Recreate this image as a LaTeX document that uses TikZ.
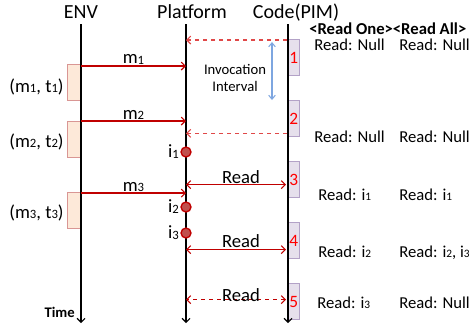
\documentclass[tikz,border=0pt]{standalone}
\usepackage{fontspec}
\setmainfont{Carlito}
\usetikzlibrary{arrows.meta}

\definecolor{msgred}{HTML}{C00000}
\definecolor{pollred}{HTML}{E04848}
\definecolor{itemfill}{HTML}{C0504D}
\definecolor{envfill}{HTML}{FDE9D9}
\definecolor{envedge}{HTML}{D99694}
\definecolor{codefill}{HTML}{E6E0EC}
\definecolor{codeedge}{HTML}{B3A2C7}
\definecolor{ivblue}{HTML}{7EA6E0}

\newcommand{\dg}[1]{\raisebox{-0.1ex}{\scalebox{0.68}{#1}}}

\tikzset{
    title/.style={anchor=base, font=\fontsize{15}{15}\selectfont},
    lifeline/.style={line width=0.8pt, -{Straight Barb[length=3pt,width=6pt]}},
    envbox/.style={draw=envedge, fill=envfill, line width=1pt, anchor=north east,
        minimum width=9.75pt, minimum height=27pt, inner sep=0pt},
    codebox/.style={draw=codeedge, fill=codefill, line width=1pt, anchor=north west,
        minimum width=9pt, minimum height=27pt, inner sep=0pt,
        text=red, font=\fontsize{13}{13}\selectfont},
    msg/.style={msgred, line width=0.8pt, -{Straight Barb[length=3pt,width=6pt]}},
    poll/.style={pollred, dashed, line width=0.8pt, -{Straight Barb[length=3pt,width=6pt]}},
    readmsg/.style={msgred, line width=0.8pt, {Straight Barb[length=3pt,width=6pt]}-{Straight Barb[length=3pt,width=6pt]}},
    item/.style={circle, draw=msgred, fill=itemfill, line width=1pt, minimum size=7.5pt, inner sep=0pt},
    lbl/.style={font=\fontsize{14}{14}\selectfont},
    row/.style={anchor=base west, inner sep=0pt, font=\fontsize{12.5}{12.5}\selectfont},
}

\begin{document}
\begin{tikzpicture}[x=0.75pt, y=-0.75pt]
    \useasboundingbox (0,0) rectangle (472,330);
    \clip (0,0) rectangle (472,330);

    % lifeline titles
    \node [title] (envtitle) at (81,18) {ENV};
    \node [title] (plattitle) at (192,18) {Platform};
    \node [title] (codetitle) at (296,18) {Code(PIM)};

    \coordinate (envtop) at (81,24);
    \coordinate (envbot) at (81,323);
    \coordinate (plattop) at (186,24);
    \coordinate (platbot) at (186,323);
    \coordinate (codetop) at (288,24);
    \coordinate (codebot) at (288,323);

    % activations
    \node [envbox] (env1) at (81,64) {};
    \node [envbox] (env2) at (81,121) {};
    \node [envbox] (env3) at (81,192) {};

    \node [codebox] (code1) at (287,39) {1};
    \node [codebox] (code2) at (287,100) {2};
    \node [codebox] (code3) at (287,161) {3};
    \node [codebox] (code4) at (287,222) {4};
    \node [codebox] (code5) at (287,283) {5};

    \draw [lifeline] (envtop) -- (envbot);
    \draw [lifeline] (plattop) -- (platbot);
    \draw [lifeline] (codetop) -- (codebot);

    \node [lbl, anchor=base] (mt1) at (36.5,92) {(m\dg{1}, t\dg{1})};
    \node [lbl, anchor=base] (mt2) at (36.5,147) {(m\dg{2}, t\dg{2})};
    \node [lbl, anchor=base] (mt3) at (36.5,218) {(m\dg{3}, t\dg{3})};
    \node [anchor=base east, inner sep=0pt, font=\bfseries\fontsize{11}{11}\selectfont] (time) at (75,317) {Time};

    % messages from ENV
    \coordinate (m1) at ([yshift=-1.5pt]env1.north east);
    \coordinate (m2) at (env2.north east);
    \coordinate (m3) at ([yshift=-0.75pt]env3.north east);
    \draw [msg] (m1) -- (m1 -| plattop) node [lbl, midway, anchor=base, yshift=2pt, text=black] {m\dg{1}};
    \draw [msg] (m2) -- (m2 -| plattop) node [lbl, midway, anchor=base, yshift=1.5pt, text=black] {m\dg{2}};
    \draw [msg] (m3) -- (m3 -| plattop) node [lbl, midway, anchor=base, yshift=1.5pt, text=black] {m\dg{3}};

    % polls with no input
    \coordinate (q1) at ([yshift=-0.75pt]code1.north west);
    \coordinate (q2) at ([yshift=3pt]code2.south west);
    \draw [poll] (q1) -- (q1 -| plattop);
    \draw [poll] (q2) -- (q2 -| plattop);

    \coordinate (ivtop) at (272,42);
    \coordinate (ivbot) at (272,100);
    \draw [ivblue, line width=0.8pt, {Straight Barb[length=3pt,width=5pt]}-{Straight Barb[length=3pt,width=5pt]}] (ivtop) -- (ivbot);
    \node [align=center, font=\fontsize{11}{12.75}\selectfont] (ivtext) at (235,78) {Invocation\\Interval};

    % inputs
    \node [item] (i1) at (186,152) {};
    \node [item] (i2) at (186,207) {};
    \node [item] (i3) at (186,233) {};
    \node [lbl, anchor=east, inner sep=1pt] at (i1.west) {i\dg{1}};
    \node [lbl, anchor=east, inner sep=1pt] at (i2.west) {i\dg{2}};
    \node [lbl, anchor=east, inner sep=1pt] at (i3.west) {i\dg{3}};

    % reads
    \coordinate (r3) at ([xshift=-0.75pt,yshift=-3.75pt]code3.west);
    \coordinate (r4) at ([xshift=-0.75pt,yshift=-6.75pt]code4.west);
    \coordinate (r5) at ([xshift=-0.75pt,yshift=1.5pt]code5.west);
    \draw [readmsg] (r3) -- (r3 -| plattop) node [lbl, pos=0.45, anchor=base, yshift=0.75pt, text=black] {Read};
    \draw [readmsg] (r4) -- (r4 -| plattop) node [lbl, pos=0.45, anchor=base, yshift=1.5pt, text=black] {Read};
    \draw [readmsg, dashed] (r5) -- (r5 -| plattop) node [lbl, pos=0.45, anchor=base, yshift=-1.5pt, text=black] {Read};

    % results
    \node [anchor=base west, inner sep=0pt, font=\bfseries\fontsize{12.5}{12.5}\selectfont] (head) at (309,34) {<Read One><Read All>};
    \node [row] (one1) at (314,50) {Read: Null};
    \node [row] (all1) at (399,50) {Read: Null};
    \node [row] (one2) at (314,142) {Read: Null};
    \node [row] (all2) at (399,142) {Read: Null};
    \node [row] (one3) at (318,200) {Read: i\dg{1}};
    \node [row] (all3) at (399,200) {Read: i\dg{1}};
    \node [row] (one4) at (318,257) {Read: i\dg{2}};
    \node [row] (all4) at (399,257) {Read: i\dg{2}, i\dg{3}};
    \node [row] (one5) at (317,308) {Read: i\dg{3}};
    \node [row] (all5) at (399,308) {Read: Null};

\end{tikzpicture}
\end{document}
